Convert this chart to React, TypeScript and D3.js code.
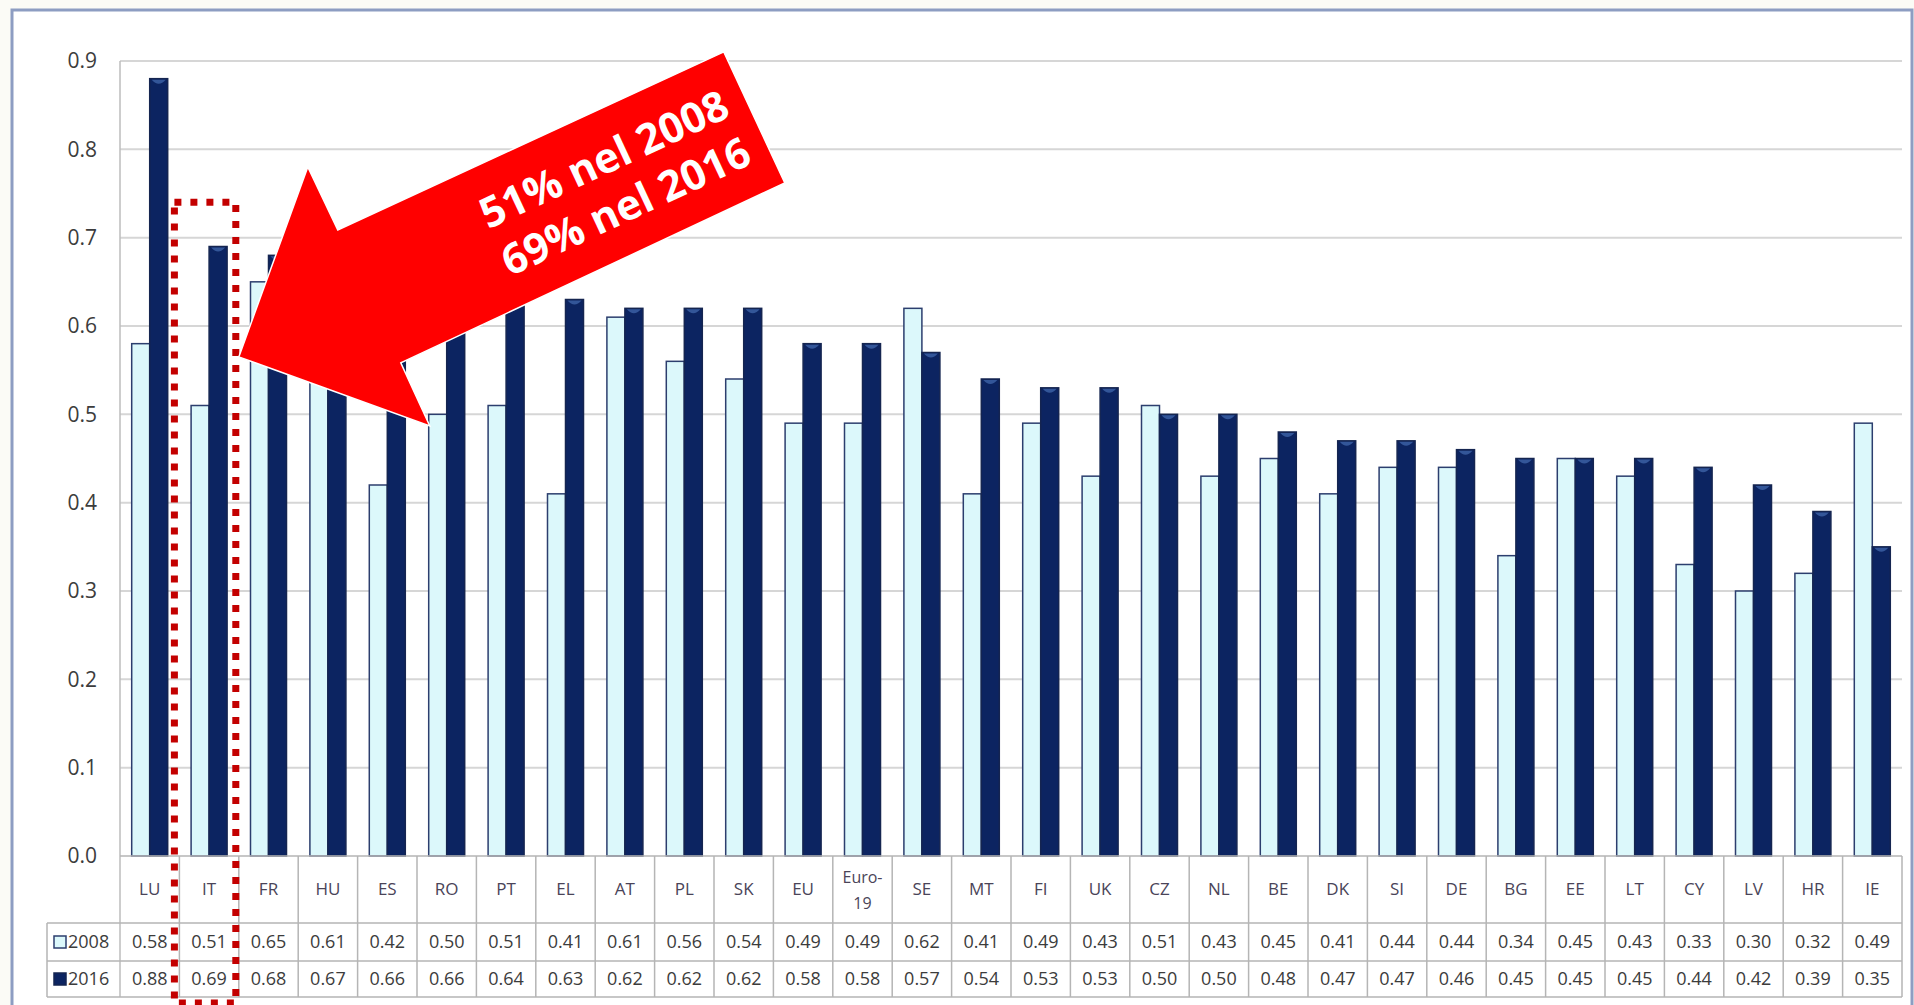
import React from "react";
import * as d3 from "d3";

const categories = ["LU","IT","FR","HU","ES","RO","PT","EL","AT","PL","SK","EU","Euro-19","SE","MT","FI","UK","CZ","NL","BE","DK","SI","DE","BG","EE","LT","CY","LV","HR","IE"];
const values2008 = [0.58,0.51,0.65,0.61,0.42,0.50,0.51,0.41,0.61,0.56,0.54,0.49,0.49,0.62,0.41,0.49,0.43,0.51,0.43,0.45,0.41,0.44,0.44,0.34,0.45,0.43,0.33,0.30,0.32,0.49];
const values2016 = [0.88,0.69,0.68,0.67,0.66,0.66,0.64,0.63,0.62,0.62,0.62,0.58,0.58,0.57,0.54,0.53,0.53,0.50,0.50,0.48,0.47,0.47,0.46,0.45,0.45,0.45,0.44,0.42,0.39,0.35];
const seriesNames = ["2008", "2016"];
const yTicks = [0.0,0.1,0.2,0.3,0.4,0.5,0.6,0.7,0.8,0.9];
const annotationLines = ["51% nel 2008", "69% nel 2016"];
const highlighted = "IT";

const W = 1914, H = 1005;
const plotL = 120, plotR = 1902, plotT = 61, plotB = 856;
const rowCatB = 923, row1B = 961, row2B = 997, legendL = 47;
const FONT = "'Open Sans', 'DejaVu Sans', sans-serif";
const LIGHT = "#dcf8fb", DARK = "#0c2461", OUT = "#2c3e6e";

export default function App() {
  const x = d3.scaleBand<string>().domain(categories).range([plotL, plotR]).padding(0);
  const xs = d3.scaleBand<string>().domain(seriesNames).range([0, x.bandwidth()]).paddingInner(0).paddingOuter(0.65);
  const y = d3.scaleLinear().domain([0, 0.9]).range([plotB, plotT]);
  const bw = x.bandwidth();
  const fmt = d3.format(".2f");

  // annotation anchored on the highlighted category
  const hx = x(highlighted)!;
  const tipX = hx + bw, tipY = y(0.565);
  const arrow: [number, number][] = [
    [tipX, tipY], [tipX + 69, tipY - 190], [tipX + 99, tipY - 127], [tipX + 485, tipY - 305],
    [tipX + 546, tipY - 174], [tipX + 162, tipY + 6], [tipX + 191, tipY + 69]
  ];
  const lineGen = d3.line();

  return (
    <div style={{ position: "absolute", left: 0, top: 0, width: W, height: H, overflow: "hidden", background: "#fff" }}>
      <svg width={W} height={H} style={{ display: "block" }}>
        <rect x={0} y={0} width={W} height={H} fill="#fbfbf6" />
        <rect x={12} y={10} width={1900} height={1010} fill="#ffffff" stroke="#8d9dc2" strokeWidth={3} />
        {/* gridlines */}
        {yTicks.filter(t => t > 0).map(t => (
          <line key={t} x1={plotL} x2={plotR} y1={y(t)} y2={y(t)} stroke="#d6d6d6" strokeWidth={2} />
        ))}
        <line x1={plotL} x2={plotL} y1={plotT} y2={row2B} stroke="#bdbdbd" strokeWidth={1.5} />
        {/* y labels */}
        {yTicks.map(t => (
          <text key={t} x={97} y={y(t)} dy="0.35em" textAnchor="end" fontFamily={FONT} fontSize={21} fill="#3c3c3c">{t.toFixed(1)}</text>
        ))}
        {/* bars */}
        {categories.map((c, i) => {
          const bx = x(c)!;
          const x1 = bx + xs("2008")!, x2 = bx + xs("2016")!;
          const w = xs.bandwidth();
          return (
            <g key={c}>
              <rect x={x1} y={y(values2008[i])} width={w} height={plotB - y(values2008[i])} fill={LIGHT} stroke={OUT} strokeWidth={1.5} />
              <rect x={x2} y={y(values2016[i])} width={w} height={plotB - y(values2016[i])} fill={DARK} stroke="#152550" strokeWidth={1.5} />
              <path d={`M${x2 + 2},${y(values2016[i]) + 1} L${x2 + w - 2},${y(values2016[i]) + 1} Q${x2 + w / 2},${y(values2016[i]) + 9} ${x2 + 2},${y(values2016[i]) + 1}Z`} fill="#3d63a8" opacity={0.8} />
            </g>
          );
        })}
        {/* table */}
        <line x1={plotL} x2={plotR} y1={plotB} y2={plotB} stroke="#b5b5b5" strokeWidth={1.5} />
        <line x1={plotR} x2={plotR} y1={plotB} y2={row2B} stroke="#b5b5b5" strokeWidth={1.5} />
        <line x1={legendL} x2={plotR} y1={rowCatB} y2={rowCatB} stroke="#b5b5b5" strokeWidth={1.5} />
        <line x1={legendL} x2={plotR} y1={row1B} y2={row1B} stroke="#b5b5b5" strokeWidth={1.5} />
        <line x1={legendL} x2={plotR} y1={row2B} y2={row2B} stroke="#b5b5b5" strokeWidth={1.5} />
        <line x1={legendL} x2={legendL} y1={rowCatB} y2={row2B} stroke="#b5b5b5" strokeWidth={1.5} />
        {categories.map((c, i) => {
          const bx = x(c)!;
          const cx = bx + bw / 2;
          return (
            <g key={"t" + c}>
              {i > 0 && <line x1={bx} x2={bx} y1={plotB} y2={row2B} stroke="#b5b5b5" strokeWidth={1.5} />}
              {c === "Euro-19" ? (
                <text x={cx} textAnchor="middle" fontFamily={FONT} fontSize={16} fill="#4a4458">
                  <tspan x={cx} y={883}>Euro-</tspan>
                  <tspan x={cx} y={909}>19</tspan>
                </text>
              ) : (
                <text x={cx} y={(plotB + rowCatB) / 2} dy="0.35em" textAnchor="middle" fontFamily={FONT} fontSize={17} fill="#4a4458">{c}</text>
              )}
              <text x={cx} y={(rowCatB + row1B) / 2} dy="0.36em" textAnchor="middle" fontFamily={FONT} fontSize={18} fill="#3c3c3c">{fmt(values2008[i])}</text>
              <text x={cx} y={(row1B + row2B) / 2} dy="0.36em" textAnchor="middle" fontFamily={FONT} fontSize={18} fill="#3c3c3c">{fmt(values2016[i])}</text>
            </g>
          );
        })}
        {/* legend keys */}
        <rect x={54} y={(rowCatB + row1B) / 2 - 6} width={12} height={12} fill={LIGHT} stroke={OUT} strokeWidth={1.5} />
        <text x={68} y={(rowCatB + row1B) / 2} dy="0.36em" fontFamily={FONT} fontSize={18} fill="#3c3c3c">{seriesNames[0]}</text>
        <rect x={54} y={(row1B + row2B) / 2 - 6} width={12} height={12} fill={DARK} stroke="#152550" strokeWidth={1.5} />
        <text x={68} y={(row1B + row2B) / 2} dy="0.36em" fontFamily={FONT} fontSize={18} fill="#3c3c3c">{seriesNames[1]}</text>
        {/* highlight dotted box */}
        <rect x={hx - 5} y={y(0.74)} width={bw + 2} height={1003 - y(0.74)} fill="none" stroke="#c30000" strokeWidth={7} strokeDasharray="7 9" />
        {/* arrow annotation */}
        <path d={lineGen(arrow)! + "Z"} fill="#ff0000" stroke="#ffffff" strokeWidth={1.5} strokeLinejoin="miter" />
        <g transform={`translate(${tipX + 376},${tipY - 174}) rotate(-25)`}>
          <text x={0} y={-26} dy="0.35em" textAnchor="middle" fontFamily={FONT} fontWeight={700} fontSize={42} fill="#ffffff">{annotationLines[0]}</text>
          <text x={0} y={26} dy="0.35em" textAnchor="middle" fontFamily={FONT} fontWeight={700} fontSize={42} fill="#ffffff">{annotationLines[1]}</text>
        </g>
      </svg>
    </div>
  );
}
